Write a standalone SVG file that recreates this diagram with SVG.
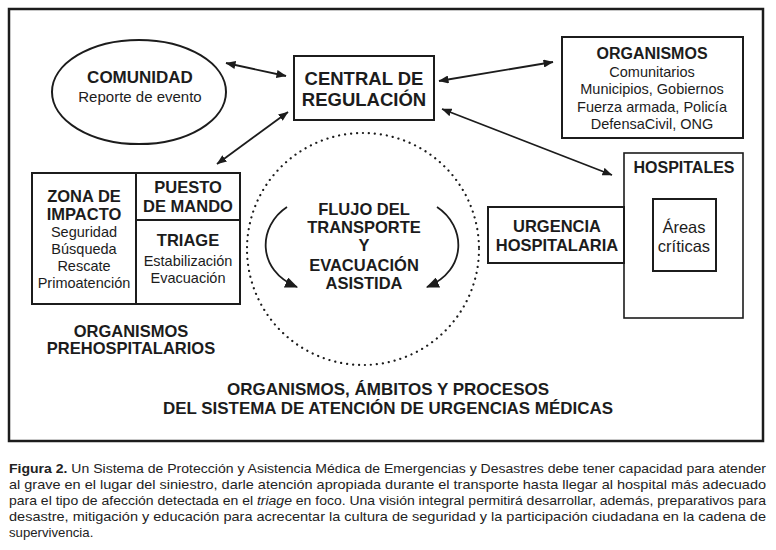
<svg xmlns="http://www.w3.org/2000/svg" width="776" height="550" viewBox="0 0 776 550">
<style>
text{font-family:"Liberation Sans",Arial,sans-serif;fill:#1c1c1c;text-anchor:middle}
.b{font-weight:bold}
.box{fill:#fff;stroke:#1c1c1c;stroke-width:2}
.con{stroke:#1c1c1c;stroke-width:1.8;fill:none}
.cap{text-anchor:start;font-size:13.2px;fill:#222}
</style>
<defs>
<marker id="ah" viewBox="0 0 10 8" refX="9.5" refY="4" markerWidth="10" markerHeight="8" markerUnits="userSpaceOnUse" orient="auto-start-reverse">
<path d="M0,0 L10,4 L0,8 z" fill="#1c1c1c"/>
</marker>
<marker id="ah2" viewBox="0 0 12 10" refX="11" refY="5" markerWidth="13" markerHeight="11" markerUnits="userSpaceOnUse" orient="auto">
<path d="M0,0 L12,5 L0,10 z" fill="#1c1c1c"/>
</marker>
</defs>
<rect x="0" y="0" width="776" height="550" fill="#fff"/>
<rect id="frame" x="9" y="9" width="754" height="432" fill="none" stroke="#1c1c1c" stroke-width="2.5"/>

<g id="connectors">
<line class="con" x1="226" y1="63" x2="286" y2="76" marker-start="url(#ah)" marker-end="url(#ah)"/>
<line class="con" x1="288" y1="112" x2="217" y2="164" marker-start="url(#ah)" marker-end="url(#ah)"/>
<line class="con" x1="439" y1="81" x2="553" y2="62" marker-start="url(#ah)" marker-end="url(#ah)"/>
<line class="con" x1="442" y1="109" x2="612" y2="175" marker-start="url(#ah)" marker-end="url(#ah)"/>
<path class="con" stroke-width="3" d="M287,207 C258,226 256,270 297,287" marker-end="url(#ah2)"/>
<path class="con" stroke-width="3" d="M437,207 C466,226 468,270 427,287" marker-end="url(#ah2)"/>
</g>

<g id="flujo">
<circle cx="363" cy="249" r="116" fill="none" stroke="#1c1c1c" stroke-width="2.2" stroke-linecap="round" stroke-dasharray="0.1 5.9"/>
<text class="b" font-size="16.5" x="364" y="215">FLUJO DEL</text>
<text class="b" font-size="16.5" x="364" y="233">TRANSPORTE</text>
<text class="b" font-size="16.5" x="364" y="251">Y</text>
<text class="b" font-size="16.5" x="364" y="271">EVACUACIÓN</text>
<text class="b" font-size="16.5" x="364" y="289">ASISTIDA</text>
</g>

<g id="comunidad">
<ellipse cx="139" cy="92" rx="87" ry="52" fill="#fff" stroke="#1c1c1c" stroke-width="2"/>
<text class="b" font-size="17" x="140" y="83">COMUNIDAD</text>
<text font-size="15" x="140" y="102">Reporte de evento</text>
</g>

<g id="central">
<rect class="box" x="294" y="56" width="140" height="64"/>
<text class="b" font-size="18.5" x="364" y="85">CENTRAL DE</text>
<text class="b" font-size="18.5" x="364" y="106">REGULACIÓN</text>
</g>

<g id="organismos">
<rect class="box" x="562" y="37" width="181" height="101"/>
<text class="b" font-size="16" x="652" y="59">ORGANISMOS</text>
<text font-size="14.5" x="652" y="77">Comunitarios</text>
<text font-size="14.5" x="652" y="94">Municipios, Gobiernos</text>
<text font-size="14.5" x="652" y="112">Fuerza armada, Policía</text>
<text font-size="14.5" x="652" y="129">DefensaCivil, ONG</text>
</g>

<g id="hospitales">
<rect x="624" y="153" width="119" height="165" fill="#fff" stroke="#1c1c1c" stroke-width="1.6"/>
<text class="b" font-size="16" x="684" y="173">HOSPITALES</text>
</g>

<g id="areas">
<rect class="box" x="653" y="199" width="63" height="72"/>
<text font-size="16.5" x="684" y="233">Áreas</text>
<text font-size="16.5" x="684" y="252">críticas</text>
</g>

<g id="urgencia">
<rect class="box" x="488" y="207" width="136" height="56"/>
<text class="b" font-size="16.5" x="557" y="232">URGENCIA</text>
<text class="b" font-size="16.5" x="557" y="251">HOSPITALARIA</text>
</g>

<g id="zona">
<rect class="box" x="32" y="173" width="104" height="131"/>
<text class="b" font-size="16.5" x="84" y="202">ZONA DE</text>
<text class="b" font-size="16.5" x="84" y="220">IMPACTO</text>
<text font-size="14.5" x="84" y="237">Seguridad</text>
<text font-size="14.5" x="84" y="254">Búsqueda</text>
<text font-size="14.5" x="84" y="271">Rescate</text>
<text font-size="14.5" x="84" y="288">Primoatención</text>
</g>

<g id="puesto">
<rect class="box" x="136" y="173" width="104" height="47"/>
<text class="b" font-size="16.5" x="188" y="193">PUESTO</text>
<text class="b" font-size="16.5" x="188" y="212">DE MANDO</text>
</g>

<g id="triage">
<rect class="box" x="136" y="220" width="104" height="84"/>
<text class="b" font-size="16.5" x="188" y="246">TRIAGE</text>
<text font-size="14.5" x="188" y="266">Estabilización</text>
<text font-size="14.5" x="188" y="283">Evacuación</text>
</g>

<g id="prehosp">
<text class="b" font-size="16.5" x="131" y="337">ORGANISMOS</text>
<text class="b" font-size="16.5" x="131" y="354">PREHOSPITALARIOS</text>
</g>

<g id="titulo">
<text class="b" font-size="17" x="388" y="395">ORGANISMOS, ÁMBITOS Y PROCESOS</text>
<text class="b" font-size="17" x="388" y="414" textLength="450" lengthAdjust="spacingAndGlyphs">DEL SISTEMA DE ATENCIÓN DE URGENCIAS MÉDICAS</text>
</g>

<g id="caption">
<text class="cap" x="9" y="473" textLength="757" lengthAdjust="spacingAndGlyphs"><tspan font-weight="bold">Figura 2.</tspan> Un Sistema de Protección y Asistencia Médica de Emergencias y Desastres debe tener capacidad para atender</text>
<text class="cap" x="9" y="489" textLength="757" lengthAdjust="spacingAndGlyphs">al grave en el lugar del siniestro, darle atención apropiada durante el transporte hasta llegar al hospital más adecuado</text>
<text class="cap" x="9" y="505" textLength="757" lengthAdjust="spacingAndGlyphs">para el tipo de afección detectada en el <tspan font-style="italic">triage</tspan> en foco. Una visión integral permitirá desarrollar, además, preparativos para</text>
<text class="cap" x="9" y="521" textLength="757" lengthAdjust="spacingAndGlyphs">desastre, mitigación y educación para acrecentar la cultura de seguridad y la participación ciudadana en la cadena de</text>
<text class="cap" x="9" y="537">supervivencia.</text>
</g>
</svg>
